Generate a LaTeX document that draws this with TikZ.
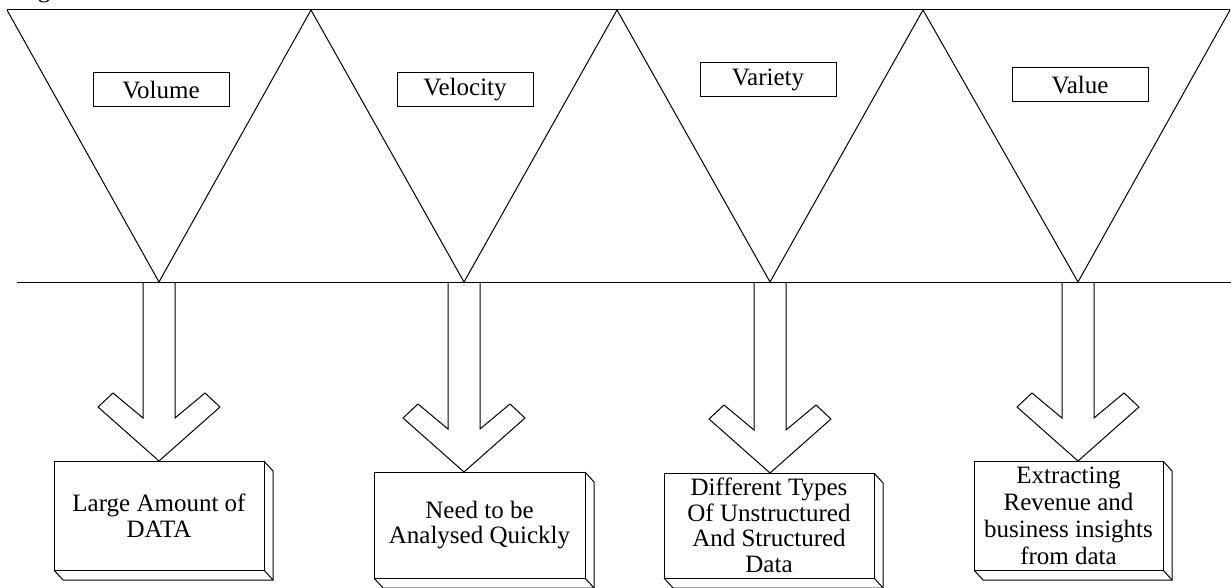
\documentclass[tikz,border=0pt]{standalone}
\usepackage{fontspec}
\setmainfont{Liberation Serif}
\usetikzlibrary{calc}
\tikzset{
  ln/.style={line width=1pt, line join=miter},
  lbl/.style={draw, ln, minimum width=136pt, minimum height=34pt, inner sep=0pt, outer sep=0pt, anchor=north west, font=\fontsize{25}{25}\selectfont},
  bx/.style={draw, ln, fill=white, inner sep=0pt, outer sep=0pt, anchor=north west, align=center, font=\fontsize{25}{25.5}\selectfont},
  barrow/.style={draw, ln, fill=white}
}
\begin{document}
\begin{tikzpicture}[x=1pt,y=-1pt]
\useasboundingbox (0,0) rectangle (1231,588);
\fill[white] (0,0) rectangle (1231,588);
\clip (0,0) rectangle (1231,588);
% partially visible caption letter
\node[anchor=base, inner sep=0pt, font=\fontsize{25}{25}\selectfont] (fig) at (44,-2) {g};
% triangles
\coordinate (t0) at (7,10);
\coordinate (t1) at (311,10);
\coordinate (t2) at (617,10);
\coordinate (t3) at (923,10);
\coordinate (t4) at (1230,10);
\coordinate (a1) at (159,282);
\coordinate (a2) at (464,282);
\coordinate (a3) at (770,282);
\coordinate (a4) at (1078,282);
\draw[ln] (t0) -- (t4);
\draw[ln] (t0) -- (a1) -- (t1) -- (a2) -- (t2) -- (a3) -- (t3) -- (a4) -- (t4);
% labels
\node[lbl] (v1) at (93,73) {Volume};
\node[lbl] (v2) at (397,73) {Velocity};
\node[lbl] (v3) at (700,63) {Variety};
\node[lbl] (v4) at (1012,68) {Value};
% arrow tips
\coordinate (p1) at (159,461);
\coordinate (p2) at (464,472);
\coordinate (p3) at (770,473);
\coordinate (p4) at (1078,461);
\foreach \a in {1,2,3,4}{
  \draw[barrow] ($(a\a)+(-16,0)$) -- ($(p\a)+(-16,-43)$) -- ($(p\a)+(-46,-68)$) -- ($(p\a)+(-61,-54)$) -- (p\a) -- ($(p\a)+(61,-54)$) -- ($(p\a)+(46,-68)$) -- ($(p\a)+(16,-43)$) -- ($(a\a)+(16,0)$);
}
% horizontal base line
\coordinate (L0) at (17,282);
\coordinate (L1) at (1231,282);
\draw[ln] (L0) -- (L1);
% boxes
\node[bx, minimum width=210pt, minimum height=109pt] (b1) at (54,461) {Large Amount of\\DATA};
\node[bx, minimum width=211pt, minimum height=106pt] (b2) at (374,472) {Need to be\\Analysed Quickly};
\node[bx, minimum width=210pt, minimum height=105pt] (b3) at (664,473) {Different Types\\Of Unstructured\\And Structured\\Data};
\node[bx, minimum width=189pt, minimum height=109pt, font=\fontsize{25}{27}\selectfont] (b4) at (974,461) {Extracting\\Revenue and\\business insights\\from data};
\foreach \b in {b1,b2,b3,b4}{
  \draw[ln] (\b.north east) -- ++(9,10) -- ($(\b.south east)+(9,10)$) -- ($(\b.south west)+(9,10)$) -- (\b.south west);
  \draw[ln] (\b.south east) -- ++(9,10);
}
\end{tikzpicture}
\end{document}
